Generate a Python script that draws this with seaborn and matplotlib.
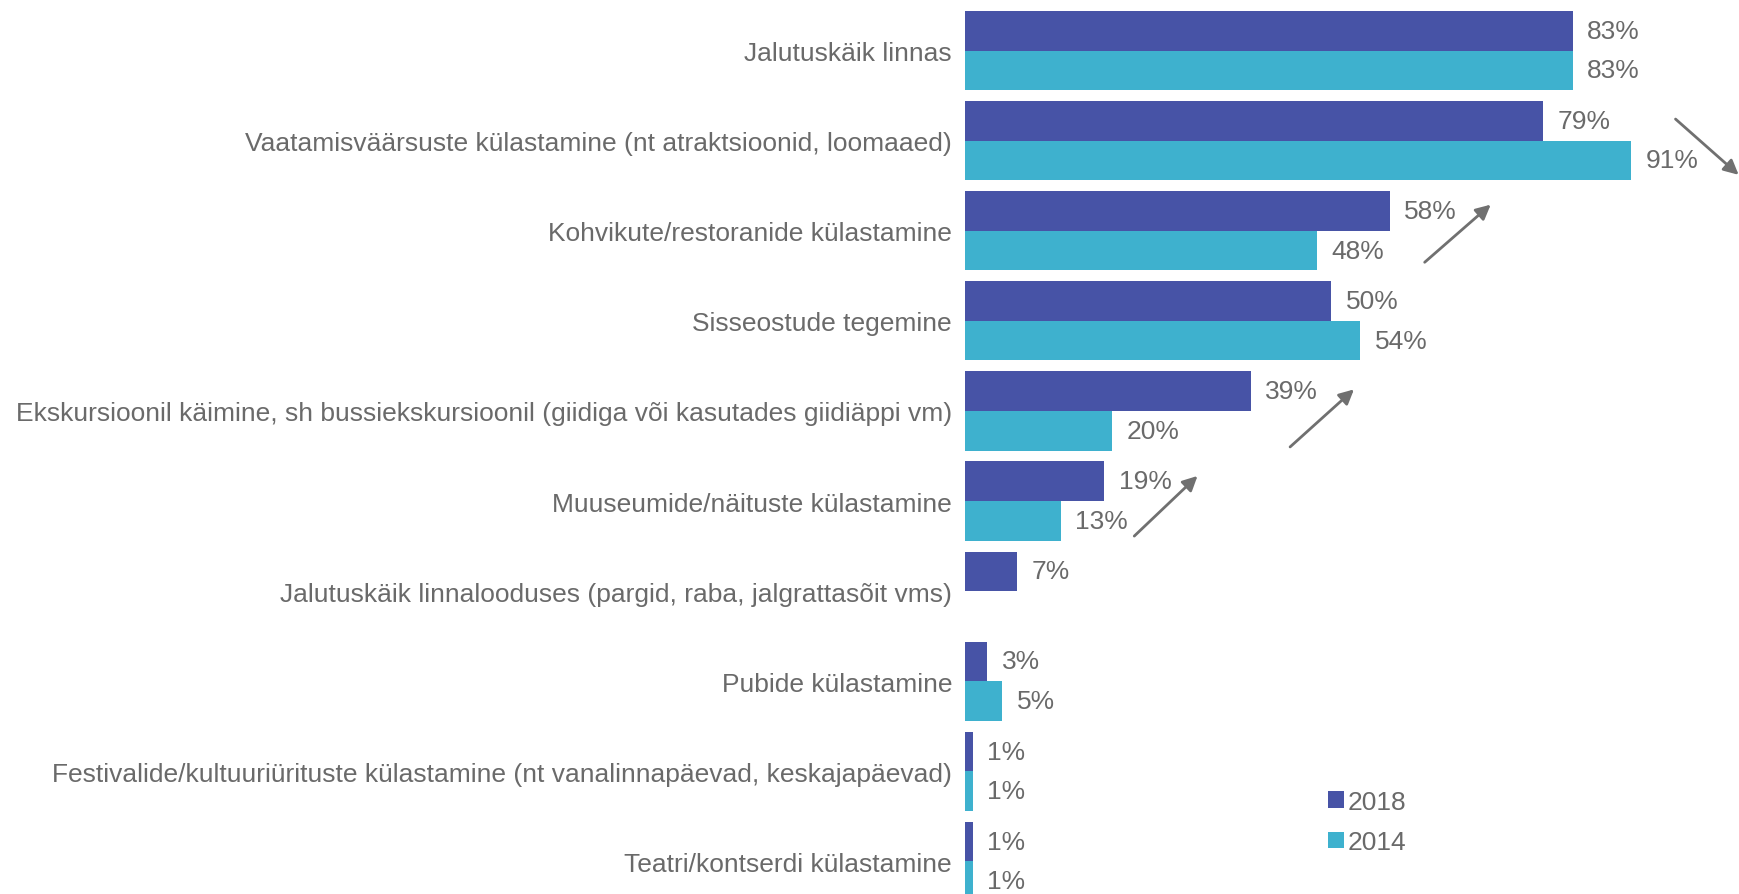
import pandas as pd
import seaborn as sns
import matplotlib.pyplot as plt
from matplotlib.patches import Patch

categories = [
    "Jalutuskäik linnas",
    "Vaatamisväärsuste külastamine (nt atraktsioonid, loomaaed)",
    "Kohvikute/restoranide külastamine",
    "Sisseostude tegemine",
    "Ekskursioonil käimine, sh bussiekskursioonil (giidiga või kasutades giidiäppi vm)",
    "Muuseumide/näituste külastamine",
    "Jalutuskäik linnalooduses (pargid, raba, jalgrattasõit vms)",
    "Pubide külastamine",
    "Festivalide/kultuuriürituste külastamine (nt vanalinnapäevad, keskajapäevad)",
    "Teatri/kontserdi külastamine",
]
vals_2018 = [83, 79, 58, 50, 39, 19, 7, 3, 1, 1]
vals_2014 = [83, 91, 48, 54, 20, 13, None, 5, 1, 1]
years = ["2018", "2014"]
colors = {"2018": "#4753A6", "2014": "#3EB1CE"}

# trend arrows (start -> end) in data units
arrows = [
    ((96.8, 0.74), (106.0, 1.40)),
    ((62.5, 2.37), (72.1, 1.69)),
    ((44.1, 4.42), (53.4, 3.74)),
    ((22.8, 5.41), (32.0, 4.70)),
]

rows = []
for c, a, b in zip(categories, vals_2018, vals_2014):
    rows.append({"cat": c, "year": "2018", "value": a})
    if b is not None:
        rows.append({"cat": c, "year": "2014", "value": b})
df = pd.DataFrame(rows)

txt = "#6A6A6A"
plt.rcParams["font.family"] = ["Liberation Sans", "DejaVu Sans"]

fig = plt.figure(figsize=(17.4, 8.95), dpi=100)
ax = fig.add_axes([965.5 / 1740, 0, 1 - 965.5 / 1740, 1])

sns.barplot(data=df, y="cat", x="value", hue="year", hue_order=years,
            order=categories, orient="h", palette=colors, width=0.88,
            saturation=1, legend=False, ax=ax)

for cont in ax.containers:
    ax.bar_label(cont, fmt="%d%%", padding=10.5, fontsize=19, color=txt)

ax.set_xlim(0, 105.9)
ax.set_ylim(9.361, -0.572)
ax.set_xlabel("")
ax.set_ylabel("")
ax.set_xticks([])
ax.tick_params(axis="y", length=0, pad=9.7, labelsize=19, labelcolor=txt)
for s in ax.spines.values():
    s.set_visible(False)

for (x0, y0), (x1, y1) in arrows:
    ax.annotate("", xy=(x1, y1), xytext=(x0, y0),
                arrowprops=dict(arrowstyle="-|>", color="#707070", lw=2,
                                mutation_scale=22),
                annotation_clip=False)

handles = [Patch(facecolor=colors[y], label=y) for y in years]
fig.legend(handles=handles, loc="center left", bbox_to_anchor=(1315 / 1740, 1 - 823 / 895),
           frameon=False, fontsize=19, handlelength=0.58, handleheight=0.58,
           handletextpad=0.15, labelspacing=0.62, borderpad=0, labelcolor=txt)

fig.savefig("out.png", dpi=100)
